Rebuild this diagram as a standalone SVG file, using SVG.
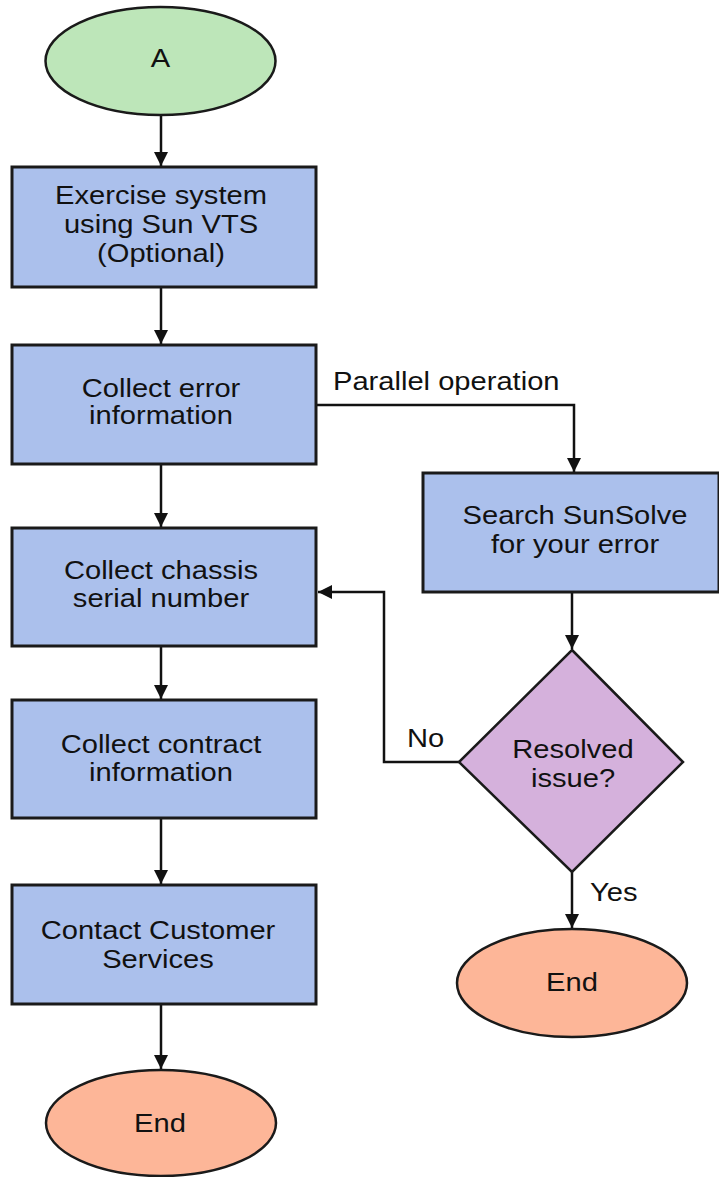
<svg xmlns="http://www.w3.org/2000/svg" width="719" height="1177" viewBox="0 0 719 1177">
<style>
.box{fill:#abc0ec;stroke:#1a1a1a;stroke-width:3}
.start{fill:#bde6b9;stroke:#1a1a1a;stroke-width:2.5}
.end{fill:#fdb698;stroke:#1a1a1a;stroke-width:2.5}
.dec{fill:#d5b1dc;stroke:#1a1a1a;stroke-width:2.5}
.ln{fill:none;stroke:#111;stroke-width:2.5}
text{font-family:"Liberation Sans",Arial,sans-serif;font-size:25px;fill:#111}
.c{text-anchor:middle}
</style>
<defs>
<marker id="ah" viewBox="0 0 14 20" refX="14" refY="10" markerWidth="14" markerHeight="20" markerUnits="userSpaceOnUse" orient="auto">
<path d="M0,3 L14,10 L0,17 Z" fill="#111"/>
</marker>
</defs>
<g id="connectors">
<path class="ln" d="M161,115 V166" marker-end="url(#ah)"/>
<path class="ln" d="M161,288 V344" marker-end="url(#ah)"/>
<path class="ln" d="M161,465 V527" marker-end="url(#ah)"/>
<path class="ln" d="M161,647 V699" marker-end="url(#ah)"/>
<path class="ln" d="M161,819 V884" marker-end="url(#ah)"/>
<path class="ln" d="M161,1005 V1069" marker-end="url(#ah)"/>
<path class="ln" d="M317,405 H574 V472" marker-end="url(#ah)"/>
<path class="ln" d="M572,593 V649" marker-end="url(#ah)"/>
<path class="ln" d="M459,762 H384 V592 H318" marker-end="url(#ah)"/>
<path class="ln" d="M572,872 V928" marker-end="url(#ah)"/>
<text transform="translate(333 390) scale(1.165 1)">Parallel operation</text>
<text transform="translate(407 747) scale(1.165 1)">No</text>
<text transform="translate(590 901) scale(1.165 1)">Yes</text>
</g>
<g id="nodeA">
<ellipse class="start" cx="160.5" cy="61" rx="115" ry="54"/>
<text class="c" transform="translate(160.5 67) scale(1.165 1)">A</text>
</g>
<g id="exercise">
<rect class="box" x="12" y="167" width="304" height="120"/>
<text class="c" transform="translate(161 204) scale(1.165 1)">Exercise system</text>
<text class="c" transform="translate(161 233) scale(1.165 1)">using Sun VTS</text>
<text class="c" transform="translate(161 262) scale(1.165 1)">(Optional)</text>
</g>
<g id="collectError">
<rect class="box" x="12" y="345" width="304" height="119"/>
<text class="c" transform="translate(161 397) scale(1.165 1)">Collect error</text>
<text class="c" transform="translate(161 424) scale(1.165 1)">information</text>
</g>
<g id="collectChassis">
<rect class="box" x="12" y="528" width="304" height="118"/>
<text class="c" transform="translate(161 579) scale(1.165 1)">Collect chassis</text>
<text class="c" transform="translate(161 607) scale(1.165 1)">serial number</text>
</g>
<g id="collectContract">
<rect class="box" x="12" y="700" width="304" height="118"/>
<text class="c" transform="translate(161 753) scale(1.165 1)">Collect contract</text>
<text class="c" transform="translate(161 781) scale(1.165 1)">information</text>
</g>
<g id="contact">
<rect class="box" x="12" y="885" width="304" height="119"/>
<text class="c" transform="translate(158 939) scale(1.165 1)">Contact Customer</text>
<text class="c" transform="translate(158 968) scale(1.165 1)">Services</text>
</g>
<g id="endLeft">
<ellipse class="end" cx="161" cy="1123" rx="115" ry="53"/>
<text class="c" transform="translate(160 1132) scale(1.165 1)">End</text>
</g>
<g id="search">
<rect class="box" x="423" y="473" width="296" height="119"/>
<text class="c" transform="translate(575 524) scale(1.165 1)">Search SunSolve</text>
<text class="c" transform="translate(575 553) scale(1.165 1)">for your error</text>
</g>
<g id="resolved">
<polygon class="dec" points="572,650 683,762 572,872 459,762"/>
<text class="c" transform="translate(573 758) scale(1.165 1)">Resolved</text>
<text class="c" transform="translate(573 787) scale(1.165 1)">issue?</text>
</g>
<g id="endRight">
<ellipse class="end" cx="572" cy="983" rx="115" ry="54"/>
<text class="c" transform="translate(572 991) scale(1.165 1)">End</text>
</g>
</svg>
